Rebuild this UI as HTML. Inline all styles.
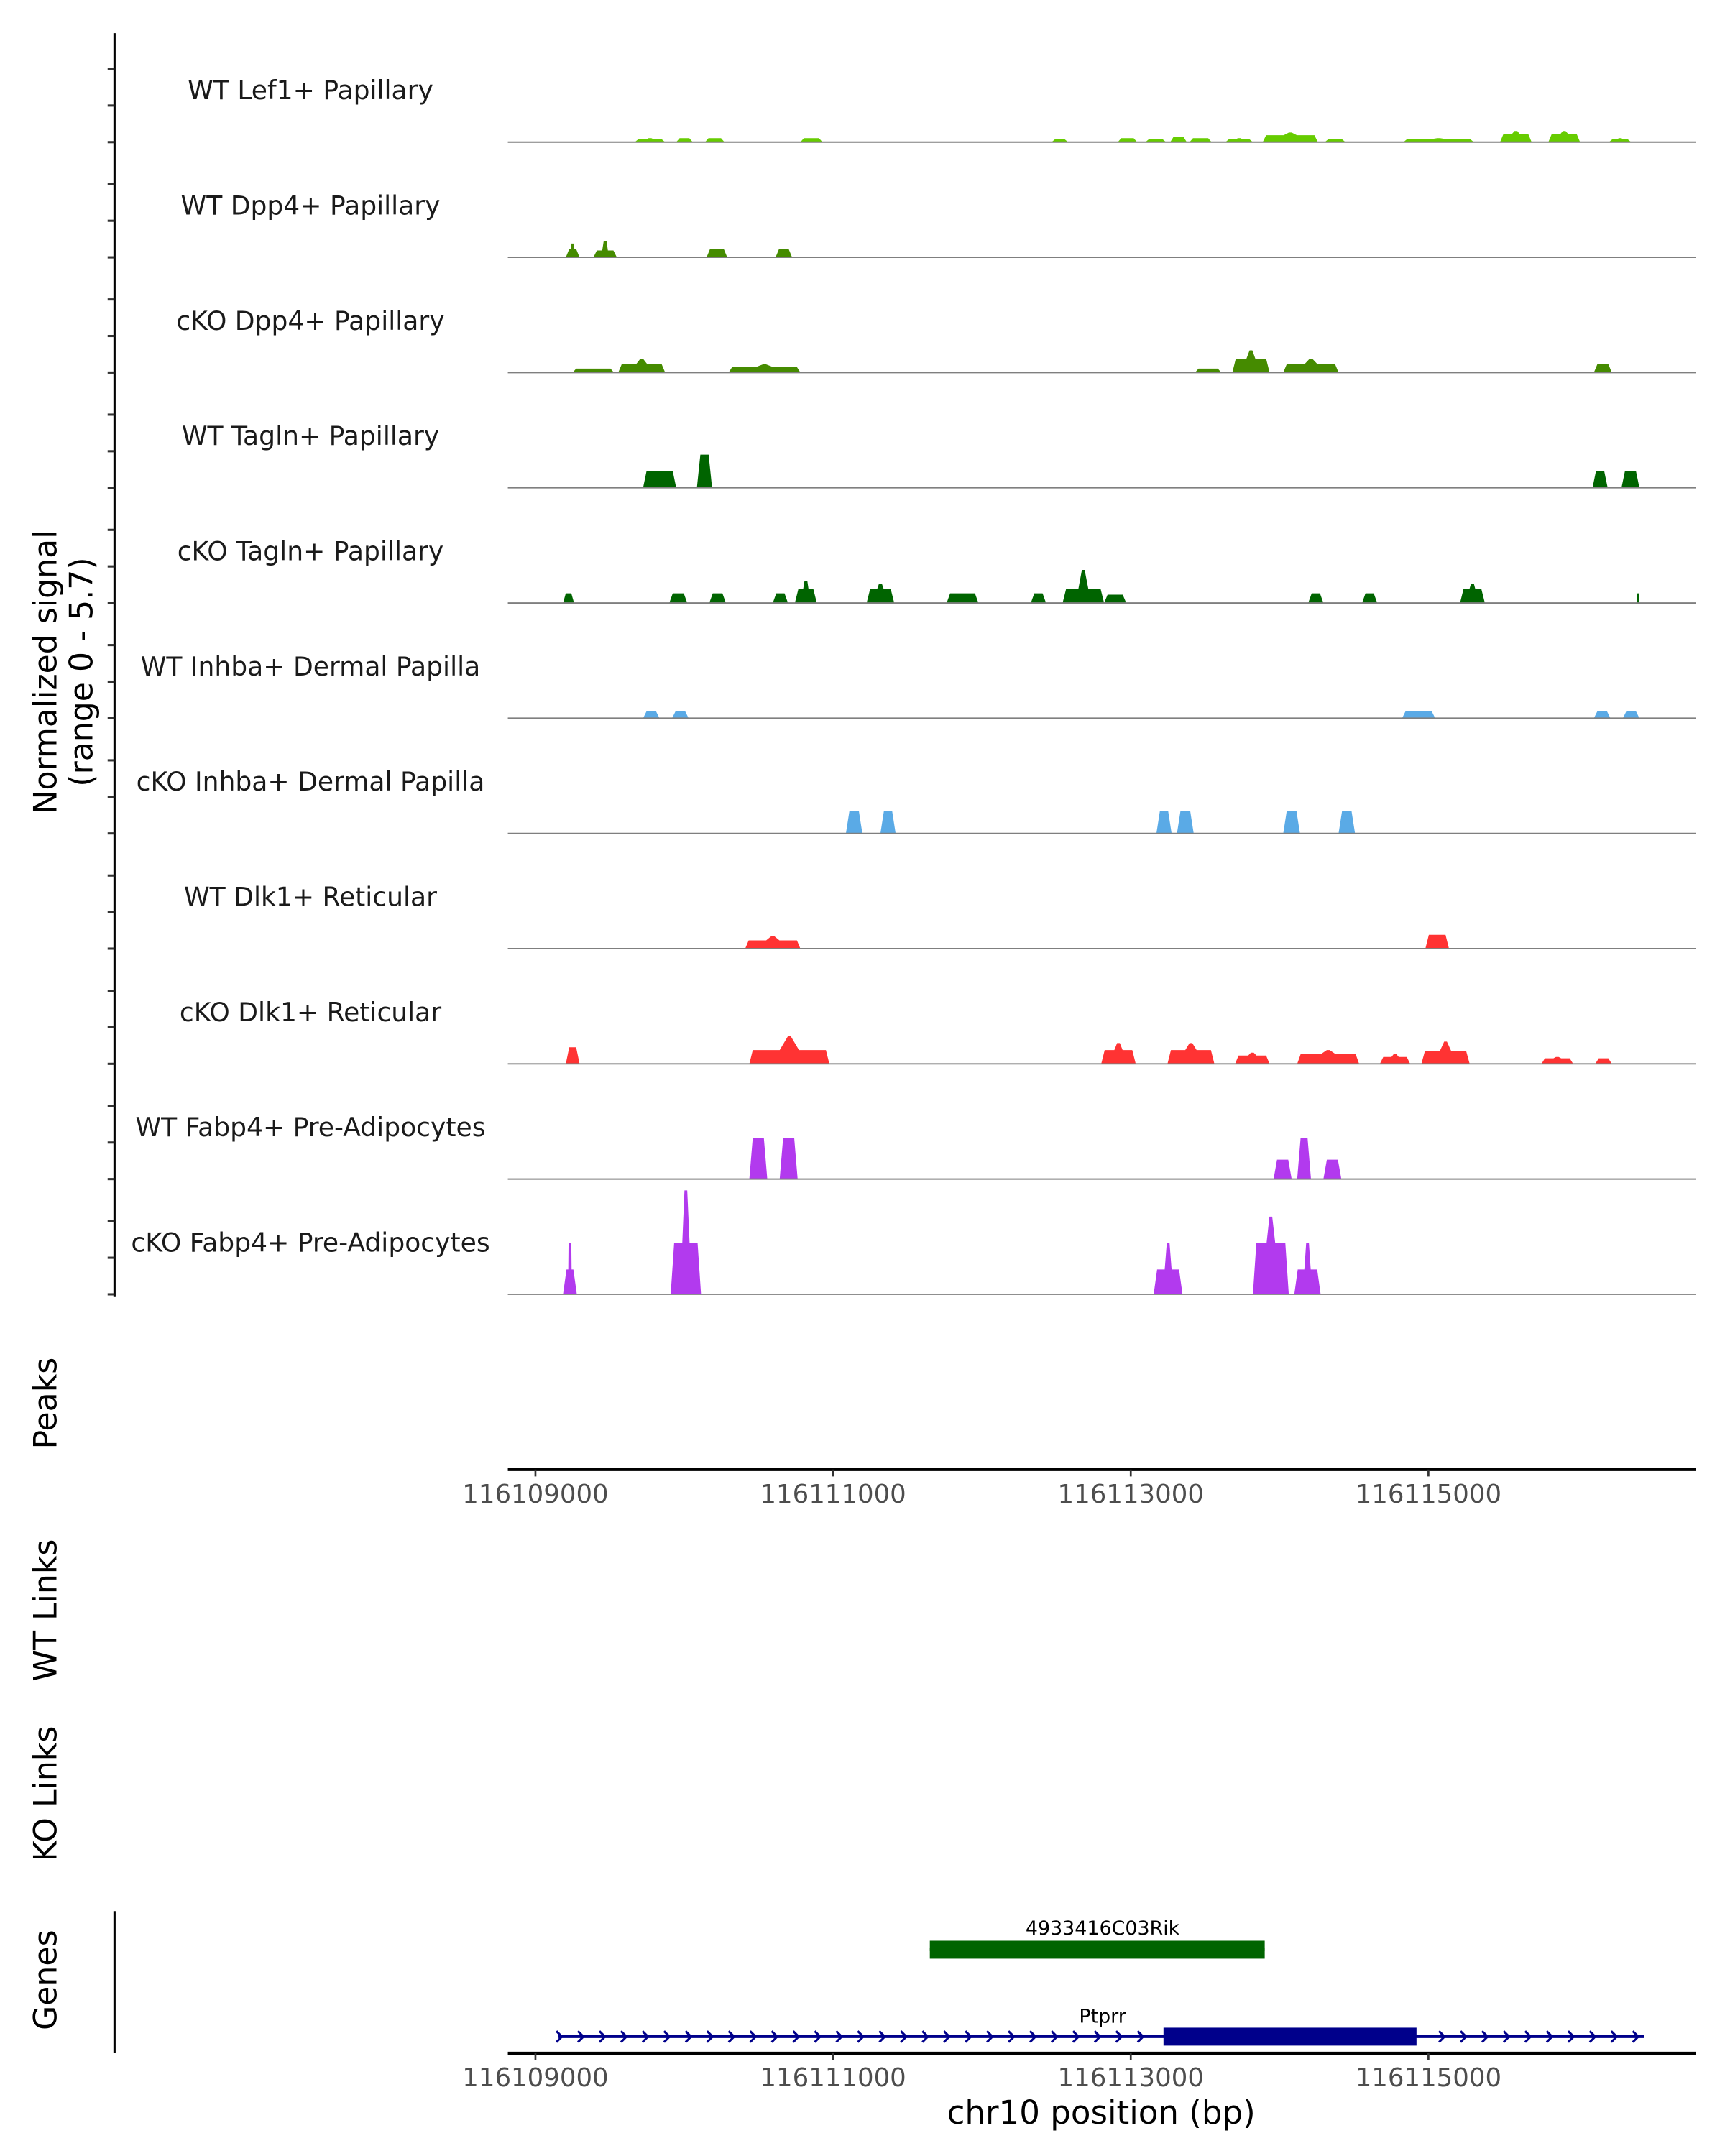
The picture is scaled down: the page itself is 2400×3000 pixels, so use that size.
<!DOCTYPE html>
<html><head><meta charset="utf-8"><style>
html,body{margin:0;padding:0;background:#fff}
svg{display:block}
text{font-family:"DejaVu Sans","Liberation Sans",sans-serif}
</style></head><body>
<svg id="chart" width="2400" height="3000" viewBox="0 0 1250 1562.5" xmlns="http://www.w3.org/2000/svg">
<g id="tracks"></g>
<line x1="83" y1="24" x2="83" y2="940" stroke="#000" stroke-width="1.6"/>
<g id="yticks"></g>
<text transform="translate(41,487) rotate(-90)" text-anchor="middle" font-size="23" fill="#000">Normalized signal</text>
<text transform="translate(67,487) rotate(-90)" text-anchor="middle" font-size="23" fill="#000">(range 0 - 5.7)</text>
<text transform="translate(41,1017) rotate(-90)" text-anchor="middle" font-size="23">Peaks</text>
<text transform="translate(41,1167) rotate(-90)" text-anchor="middle" font-size="23">WT Links</text>
<text transform="translate(41,1300) rotate(-90)" text-anchor="middle" font-size="23">KO Links</text>
<text transform="translate(41,1435) rotate(-90)" text-anchor="middle" font-size="23">Genes</text>
<line x1="83" y1="1385" x2="83" y2="1488" stroke="#000" stroke-width="1.6"/>
<g id="xaxes"></g>
<g id="genes"></g>
<text x="798" y="1539" text-anchor="middle" font-size="23.5">chr10 position (bp)</text>
</svg>
<script>
const NS="http://www.w3.org/2000/svg";
const trackNames=["WT Lef1+ Papillary","WT Dpp4+ Papillary","cKO Dpp4+ Papillary","WT Tagln+ Papillary","cKO Tagln+ Papillary","WT Inhba+ Dermal Papilla","cKO Inhba+ Dermal Papilla","WT Dlk1+ Reticular","cKO Dlk1+ Reticular","WT Fabp4+ Pre-Adipocytes","cKO Fabp4+ Pre-Adipocytes"];
const trackColors=["#66cc00","#458b00","#458b00","#006400","#006400","#5aaae6","#5aaae6","#ff3333","#ff3333","#b23aee","#b23aee"];
// features: [start bp, end bp, plateau height, peak height]
const lef1WT=[[116109668,116109872,0.14,0.2],[116109946,116110057,0.2,0.2],[116110140,116110270,0.2,0.2],[116110780,116110929,0.2,0.2],[116112468,116112579,0.14,0.14],[116112913,116113043,0.2,0.2],[116113098,116113237,0.14,0.14],[116113265,116113376,0.27,0.27],[116113395,116113543,0.2,0.2],[116113636,116113821,0.14,0.2],[116113886,116114257,0.34,0.48],[116114304,116114443,0.14,0.14],[116114832,116115305,0.14,0.2],[116115481,116115694,0.41,0.55],[116115806,116116019,0.41,0.55],[116116213,116116362,0.14,0.2]];
const dpp4WT=[[116109204,116109297,0.41,0.68],[116109389,116109547,0.34,0.82],[116110150,116110289,0.41,0.41],[116110613,116110725,0.41,0.41]];
const dpp4KO=[[116109250,116109528,0.2,0.2],[116109556,116109872,0.41,0.68],[116110298,116110780,0.27,0.41],[116113432,116113608,0.2,0.2],[116113682,116113933,0.68,1.1],[116114025,116114396,0.41,0.68],[116116112,116116232,0.41,0.41]];
const taglnWT=[[116109723,116109946,0.82,0.82],[116110085,116110187,1.64,1.64],[116116102,116116204,0.82,0.82],[116116297,116116418,0.82,0.82]];
const taglnKO=[[116109185,116109260,0.48,0.48],[116109899,116110020,0.48,0.48],[116110168,116110280,0.48,0.48],[116110595,116110697,0.48,0.48],[116110743,116110891,0.68,1.1],[116111225,116111411,0.68,0.96],[116111763,116111976,0.48,0.48],[116112329,116112431,0.48,0.48],[116112542,116112821,0.68,1.64],[116112821,116112969,0.41,0.41],[116114192,116114294,0.48,0.48],[116114554,116114656,0.48,0.48],[116115212,116115379,0.68,0.96],[116116399,116116418,0.48,0.48]];
const inhbaWT=[[116109723,116109834,0.34,0.34],[116109918,116110029,0.34,0.34],[116114823,116115045,0.34,0.34],[116116112,116116223,0.34,0.34],[116116306,116116418,0.34,0.34]];
const inhbaKO=[[116111086,116111197,1.1,1.1],[116111318,116111420,1.1,1.1],[116113172,116113274,1.1,1.1],[116113311,116113423,1.1,1.1],[116114025,116114137,1.1,1.1],[116114396,116114507,1.1,1.1]];
const dlk1WT=[[116110409,116110780,0.41,0.62],[116114980,116115138,0.68,0.68]];
const dlk1KO=[[116109204,116109297,0.82,0.82],[116110437,116110975,0.68,1.37],[116112802,116113033,0.68,1.03],[116113247,116113562,0.68,1.03],[116113701,116113933,0.41,0.55],[116114118,116114535,0.48,0.68],[116114674,116114878,0.34,0.48],[116114953,116115277,0.62,1.1],[116115759,116115973,0.27,0.34],[116116121,116116232,0.27,0.27]];
const fabp4WT=[[116110437,116110558,2.05,2.05],[116110641,116110762,2.05,2.05],[116113960,116114081,0.96,0.96],[116114118,116114211,2.05,2.05],[116114294,116114415,0.96,0.96]];
const fabp4KO=[[116109185,116109278,1.23,2.53],[116109909,116110113,2.53,5.14],[116113154,116113348,1.23,2.53],[116113821,116114062,2.53,3.84],[116114099,116114276,1.23,2.53]];
const trackData=[lef1WT,dpp4WT,dpp4KO,taglnWT,taglnKO,inhbaWT,inhbaKO,dlk1WT,dlk1KO,fabp4WT,fabp4KO];
const xTicks=[116109000,116111000,116113000,116115000];
const genes=[["4933416C03Rik",116111650,116113900,116111650,116113900,"#006400",1413,1402],["Ptprr",116109150,116116450,116113220,116114920,"#00008b",1476,1466]];

const X=bp=>388+(bp-116109000)*0.10785;
const yUnit=83.5/5.7;
const base=i=>103+i*83.5;
function mk(tag,attrs,parent){const e=document.createElementNS(NS,tag);for(const k in attrs)e.setAttribute(k,attrs[k]);parent.appendChild(e);return e;}
const tg=document.getElementById('tracks');
trackNames.forEach((name,i)=>{
  const b=base(i);
  const g=mk('g',{},tg);
  
  
  const t=mk('text',{x:225,y:b-31,'text-anchor':'middle','font-size':18.8,fill:'#1a1a1a'},g);
  t.textContent=name;
  
  
  trackData[i].forEach(f=>{
    const [s,e,h,p]=f;const x1=X(s),x2=X(e);const w=x2-x1;const sl=Math.min(2.5,w/4);
    const yh=b-h*yUnit, yp=b-p*yUnit; const m=(x1+x2)/2;
    let pts=[[x1,b],[x1+sl,yh]];
    if(p>h){pts.push([m-w*0.12,yh],[m-1,yp],[m+1,yp],[m+w*0.12,yh]);}
    pts.push([x2-sl,yh],[x2,b]);
    const poly=mk('polygon',{points:pts.map(q=>q[0].toFixed(1)+','+q[1].toFixed(1)).join(' '),fill:trackColors[i]},g);
    
    
  });
  const bl=mk('line',{x1:368,x2:1229,y1:b,y2:b,stroke:'#7f7f7f','stroke-width':1},g);
  
  
});
const yt=document.getElementById('yticks');
for(let i=0;i<trackNames.length;i++){for(let k=0;k<3;k++){const y=base(i)-k*26.5;
  const l=mk('line',{x1:78,x2:83,y1:y,y2:y,stroke:'#333','stroke-width':1.6},yt);
  
  }}
const xa=document.getElementById('xaxes');
[1065,1488].forEach(ay=>{
  const l=mk('line',{x1:368,x2:1229,y1:ay,y2:ay,stroke:'#000','stroke-width':2.2},xa);
  
  
  xTicks.forEach(v=>{
    const tk=mk('line',{x1:X(v),x2:X(v),y1:ay,y2:ay+5,stroke:'#333','stroke-width':1.4},xa);
    
    
    const tx=mk('text',{x:X(v),y:ay+24,'text-anchor':'middle','font-size':18.5,fill:'#4d4d4d'},xa);
    tx.textContent=v;
    
    
  });
});
const gg=document.getElementById('genes');
genes.forEach(([name,s,e,cs,ce,col,y,ly])=>{
  const g=mk('g',{},gg);
  
  
  mk('line',{x1:X(s),x2:X(e),y1:y,y2:y,stroke:col,'stroke-width':2},g);
  if(name==='Ptprr'){
    for(let x=X(s)+2;x<X(e)-2;x+=15.6){if(x>X(cs)-4&&x<X(ce)+4)continue;
      mk('polyline',{points:`${x-3},${y-4} ${x+1},${y} ${x-3},${y+4}`,fill:'none',stroke:col,'stroke-width':1.6},g);}
  }
  const r=mk('rect',{x:X(cs),y:y-6.5,width:X(ce)-X(cs),height:13,fill:col},g);
  
  
  const t=mk('text',{x:799,y:ly,'text-anchor':'middle','font-size':14,fill:'#000'},g);
  t.textContent=name;
  
  
});
</script>
</body></html>
